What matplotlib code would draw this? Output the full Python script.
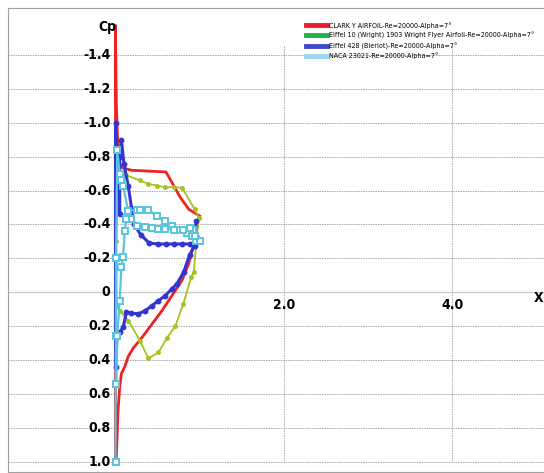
import matplotlib.pyplot as plt
from matplotlib.lines import Line2D

# Cp distributions, Re=20000, alpha=7 deg
clark_x = [1.0, 0.87, 0.77, 0.6, 0.4, 0.19, 0.08, 0.05, 0.025, 0.01, 0.0,
           0.0, 0.01, 0.02, 0.03, 0.05, 0.07, 0.11, 0.15, 0.21, 0.31, 0.43,
           0.55, 0.67, 0.79, 0.87, 0.92, 0.98]
clark_cp = [-0.45, -0.49, -0.56, -0.71, -0.715, -0.72, -0.735, -0.76, -0.9, -1.1, -1.575,
            1.0, 0.97, 0.84, 0.70, 0.56, 0.48, 0.44, 0.38, 0.33, 0.27, 0.19,
            0.11, 0.02, -0.07, -0.17, -0.265, -0.33]

eiffel10_x = [0.99, 0.94, 0.79, 0.69, 0.59, 0.49, 0.39, 0.29, 0.13, 0.03, 0.01,
              0.014, 0.053, 0.152, 0.29, 0.39, 0.51, 0.61, 0.71, 0.805, 0.9, 0.93,
              0.96, 0.99]
eiffel10_cp = [-0.44, -0.49, -0.617, -0.62, -0.62, -0.63, -0.64, -0.66, -0.69, -0.71, -0.3,
               0.08, 0.11, 0.167, 0.285, 0.39, 0.355, 0.27, 0.2, 0.07, -0.09, -0.12,
               -0.3, -0.44]

eiffel428_x = [0.96, 0.94, 0.88, 0.79, 0.69, 0.6, 0.5, 0.4, 0.3, 0.22, 0.19,
               0.15, 0.1, 0.07, 0.05, 0.05, 0.0, 0.0, 0.02, 0.05, 0.09, 0.13,
               0.19, 0.27, 0.35, 0.43, 0.51, 0.59, 0.67, 0.73, 0.81, 0.88, 0.94]
eiffel428_cp = [-0.42, -0.29, -0.285, -0.285, -0.285, -0.285, -0.285, -0.29, -0.34, -0.40, -0.5,
                -0.63, -0.76, -0.9, -0.8, -0.46, -1.0, 0.44, 0.25, 0.236, 0.207, 0.118,
                0.124, 0.127, 0.11, 0.08, 0.05, 0.02, -0.02, -0.05, -0.12, -0.22, -0.275]

naca_x = [0.0, 0.002, 0.005, 0.005, 0.02, 0.05, 0.07, 0.09, 0.15, 0.25, 0.29,
          0.39, 0.49, 0.59, 0.67, 0.77, 0.85, 0.91, 0.96, 1.0, 0.94, 0.92,
          0.88, 0.8, 0.69, 0.59, 0.51, 0.43, 0.35, 0.25, 0.19, 0.13, 0.11,
          0.09, 0.07, 0.05, 0.02, 0.01]
naca_cp = [1.0, 0.54, 0.26, -0.2, -0.84, -0.70, -0.66, -0.63, -0.48, -0.486, -0.486,
           -0.486, -0.45, -0.42, -0.39, -0.37, -0.35, -0.33, -0.30, -0.30, -0.33, -0.37,
           -0.38, -0.37, -0.37, -0.375, -0.375, -0.38, -0.385, -0.39, -0.43, -0.43, -0.36,
           -0.21, -0.15, 0.05, 0.26, 0.54]

labels = ['CLARK Y AIRFOIL-Re=20000-Alpha=7°',
          'Eiffel 10 (Wright) 1903 Wright Flyer Airfoil-Re=20000-Alpha=7°',
          'Eiffel 428 (Bleriot)-Re=20000-Alpha=7°',
          'NACA 23021-Re=20000-Alpha=7°']
legend_colors = ['#ed1c24', '#22b14c', '#3f48cc', '#99d9ea']

yticks = [-1.4, -1.2, -1.0, -0.8, -0.6, -0.4, -0.2, 0, 0.2, 0.4, 0.6, 0.8, 1.0]
ytick_labels = ['-1.4', '-1.2', '-1.0', '-0.8', '-0.6', '-0.4', '-0.2', '0',
                '0.2', '0.4', '0.6', '0.8', '1.0']
xticks = [2.0, 4.0]
xtick_labels = ['2.0', '4.0']

W, H = 544, 473
fig = plt.figure(figsize=(W / 100, H / 100), dpi=100)
ax = fig.add_axes([8 / W, 1 - 471.7 / H, (W - 8) / W, (471.7 - 8.3) / H])
ax.set_xlim(-1.277, 5.09)
ax.set_ylim(1.059, -1.676)
ax.set_xticks([])
ax.set_yticks([])
for s in ['left', 'top', 'bottom']:
    ax.spines[s].set_linestyle((0, (1, 1)))
    ax.spines[s].set_color('#a0a0a0')
    ax.spines[s].set_linewidth(0.8)
ax.spines['right'].set_visible(False)

grid = dict(color='#a8a8a8', lw=0.7, ls=(0, (1.5, 1)), zorder=0)
for v in yticks:
    if v == 0:
        ax.axhline(0, color='#cccccc', lw=1.0, zorder=0)
    else:
        ax.axhline(v, **grid)
for v in xticks:
    ax.vlines(v, -1.455, 1.0, **grid)

tfont = dict(family='DejaVu Sans', stretch='condensed', weight='bold', size=10)
for v, t in zip(yticks, ytick_labels):
    ax.text(-0.06, v, t, ha='right', va='center', fontdict=tfont)
for v, t in zip(xticks, xtick_labels):
    ax.text(v, 0.075, t, ha='center', va='center', fontdict=tfont)
ax.text(-0.10, -1.566, 'Cp', ha='center', va='center', fontdict=tfont)
ax.text(5.02, 0.034, 'X', ha='center', va='center', fontdict=tfont)

ax.plot(eiffel10_x, eiffel10_cp, color='#a2c41e', lw=1.3, marker='o', ms=2.5, zorder=3)
ax.plot(clark_x, clark_cp, color='#ee2222', lw=2.0, zorder=2)
ax.plot(eiffel428_x, eiffel428_cp, color='#3434d2', lw=2.2, marker='o', ms=3.2, zorder=4)
ax.plot(naca_x, naca_cp, color='#58c4e0', lw=1.6, marker='s', ms=4.5,
        mfc='white', mec='#58c4e0', mew=1.4, zorder=5)

handles = [Line2D([], [], color=c, lw=3.5) for c in legend_colors]
fig.legend(handles, labels, loc='upper left', bbox_to_anchor=(306 / W, 1 - 22 / H),
           frameon=False, handlelength=3.0, handletextpad=0.3,
           labelspacing=0.45, borderpad=0, borderaxespad=0,
           prop={'family': 'DejaVu Sans', 'stretch': 'condensed', 'size': 5.1})

plt.savefig('out.png', dpi=100)
